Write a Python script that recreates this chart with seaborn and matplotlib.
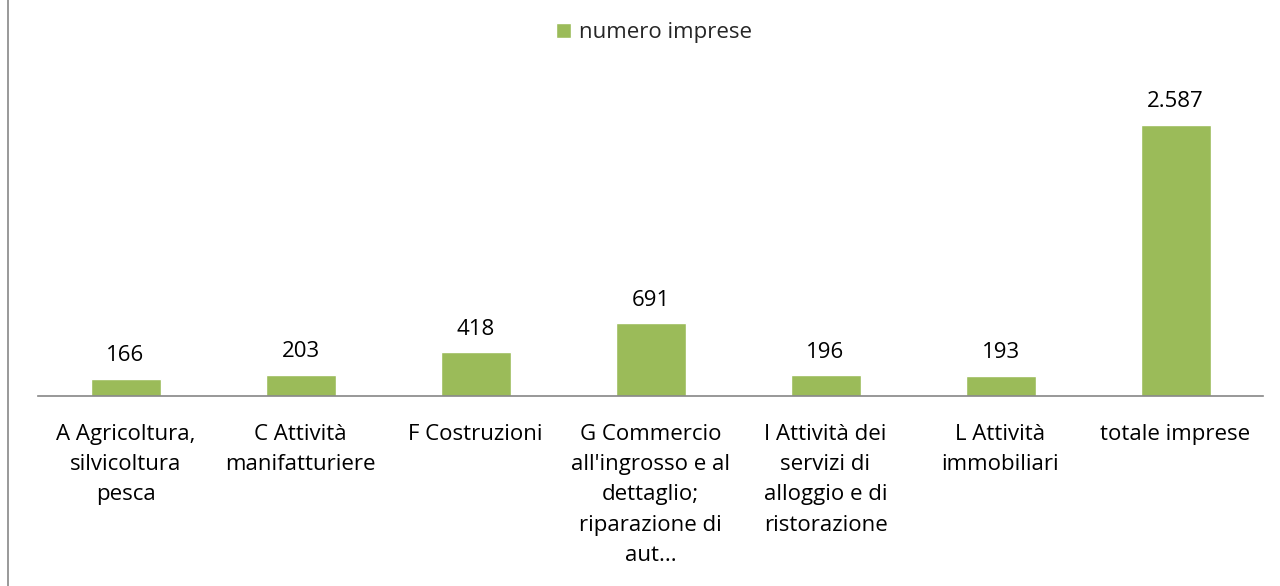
import pandas as pd
import matplotlib.pyplot as plt
import seaborn as sns
from matplotlib.lines import Line2D

# data
categories = ['A Agricoltura,\nsilvicoltura\npesca',
              'C Attività\nmanifatturiere',
              'F Costruzioni',
              "G Commercio\nall'ingrosso e al\ndettaglio;\nriparazione di\naut...",
              'I Attività dei\nservizi di\nalloggio e di\nristorazione',
              'L Attività\nimmobiliari',
              'totale imprese']
values = [166, 203, 418, 691, 196, 193, 2587]
series_name = 'numero imprese'

df = pd.DataFrame({'cat': categories, 'val': values})

sns.set_theme(style='white')
plt.rcParams['font.family'] = ['Open Sans', 'DejaVu Sans']
fs = 16

fig = plt.figure(figsize=(12.8, 5.86), dpi=100)
ax = fig.add_axes([38/1280, 190/586, 1225/1280, 336/586])

sns.barplot(data=df, x='cat', y='val', color='#9BBB59', width=0.4,
            saturation=1, ax=ax, label=series_name)

ax.set_ylim(0, 336 / (271.5 / 2587))
ax.set_xlim(-0.5, len(categories) - 0.5)
ax.set_xlabel('')
ax.set_ylabel('')
ax.set_yticks([])
for s in ['top', 'right', 'left']:
    ax.spines[s].set_visible(False)
ax.spines['bottom'].set_color('#868686')
ax.spines['bottom'].set_linewidth(1.2)
ax.tick_params(axis='x', length=0, pad=20, labelsize=fs)
for t in ax.get_xticklabels():
    t.set_linespacing(1.58)
    t.set_color('#000000')

for i, v in enumerate(values):
    ax.annotate(f'{v:,}'.replace(',', '.'), (i, v), xytext=(0, 16.5),
                textcoords='offset points', ha='center', va='center',
                fontsize=fs, color='#000000')

ax.legend(loc='upper center', bbox_to_anchor=(0.511, 1.0), bbox_transform=fig.transFigure,
          frameon=False, fontsize=fs, handlelength=0.65, handleheight=0.65,
          handletextpad=0.35, borderaxespad=0.6)

# left border of the chart area
fig.add_artist(Line2D([8/1280, 8/1280], [0, 1], transform=fig.transFigure,
                      color='#888888', linewidth=1.2))

plt.savefig('out.png', dpi=100)
